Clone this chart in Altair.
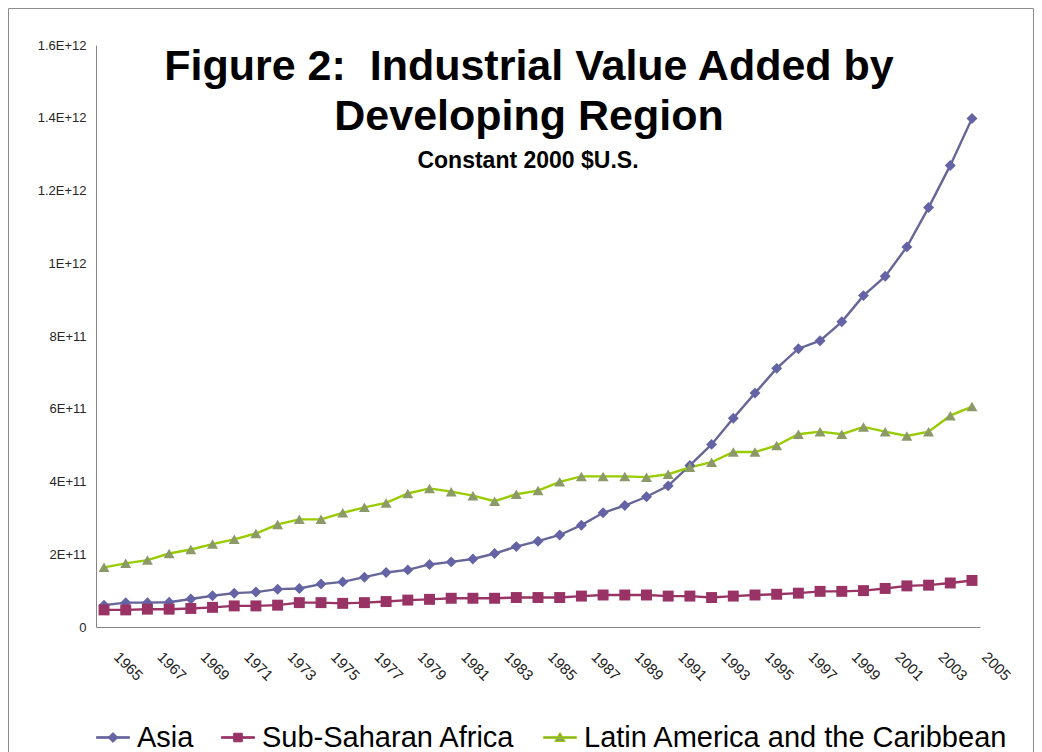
import altair as alt
import pandas as pd

# ---------------- data (values in units of 1E+11 constant 2000 US$) ----------------
YEARS = [1965, 1966, 1967, 1968, 1969, 1970, 1971, 1972, 1973, 1974,
         1975, 1976, 1977, 1978, 1979, 1980, 1981, 1982, 1983, 1984,
         1985, 1986, 1987, 1988, 1989, 1990, 1991, 1992, 1993, 1994,
         1995, 1996, 1997, 1998, 1999, 2000, 2001, 2002, 2003, 2004, 2005]

ASIA = [0.60, 0.67, 0.67, 0.68, 0.77, 0.86, 0.93, 0.96, 1.04, 1.06,
        1.18, 1.24, 1.37, 1.50, 1.57, 1.72, 1.79, 1.87, 2.02, 2.21,
        2.36, 2.53, 2.80, 3.14, 3.34, 3.58, 3.88, 4.44, 5.02, 5.74,
        6.43, 7.11, 7.65, 7.87, 8.39, 9.11, 9.64, 10.45, 11.53, 12.69, 13.98]

SSA = [0.47, 0.47, 0.49, 0.49, 0.51, 0.54, 0.58, 0.58, 0.60, 0.67,
       0.67, 0.65, 0.67, 0.70, 0.74, 0.76, 0.79, 0.79, 0.79, 0.81,
       0.81, 0.81, 0.85, 0.88, 0.88, 0.88, 0.85, 0.85, 0.81, 0.85,
       0.88, 0.90, 0.93, 0.98, 0.98, 1.00, 1.06, 1.13, 1.15, 1.21, 1.28]

LATAM = [1.64, 1.75, 1.84, 2.02, 2.13, 2.28, 2.41, 2.57, 2.82, 2.96,
         2.96, 3.14, 3.29, 3.41, 3.67, 3.81, 3.72, 3.61, 3.46, 3.65,
         3.75, 3.99, 4.14, 4.14, 4.14, 4.12, 4.20, 4.39, 4.53, 4.81,
         4.81, 4.99, 5.30, 5.37, 5.30, 5.50, 5.37, 5.25, 5.37, 5.81, 6.06]

UNIT = 1e11

REGIONS = ["Asia", "Sub-Saharan Africa", "Latin America and the Caribbean"]
SERIES = [ASIA, SSA, LATAM]

TICK_YEARS = [1965, 1967, 1969, 1971, 1973, 1975, 1977, 1979, 1981, 1983,
              1985, 1987, 1989, 1991, 1993, 1995, 1997, 1999, 2001, 2003, 2005]
Y_TICKS = [0, 2e11, 4e11, 6e11, 8e11, 1e12, 1.2e12, 1.4e12, 1.6e12]

TITLE_LINES = ["Figure 2:\u00a0 Industrial Value Added by", "Developing Region"]
SUBTITLE = "Constant 2000 $U.S."

# ---------------- styles ----------------
LINE_COLORS = ["#666699", "#993366", "#99CC00"]
MARKER_COLORS = ["#6363A5", "#993366", "#8C9A6A"]
SHAPES = ["diamond", "square", "triangle-up"]
LEGEND_PATHS = [
    "M-1,-0.05H1V0.05H-1Z M0,-0.3L0.3,0L0,0.3L-0.3,0Z",
    "M-1,-0.05H1V0.05H-1Z M-0.26,-0.26H0.26V0.26H-0.26Z",
    "M-1,-0.05H1V0.05H-1Z M0,-0.3L0.32,0.24L-0.32,0.24Z",
]
FONT = "Liberation Sans, Arial, sans-serif"

W, H = 884, 582
PAD = {"left": 88, "top": 37, "right": 54, "bottom": 125}

rows = []
for region, vals in zip(REGIONS, SERIES):
    for yr, v in zip(YEARS, vals):
        rows.append({"Year": yr, "Region": region, "Value": v * UNIT})
df = pd.DataFrame(rows)

x_enc = alt.X(
    "Year:O",
    scale=alt.Scale(padding=0.37),
    axis=alt.Axis(
        values=TICK_YEARS, labelAngle=45, labelAlign="left", labelBaseline="top",
        labelPadding=22, labelOffset=17, ticks=False, tickSize=0, grid=False,
        domainColor="#868686", domainWidth=1, labelFont=FONT, labelFontSize=15,
        labelColor="#222222", title=None, labelOverlap=False,
    ),
)
y_expr = ("datum.value == 0 ? '0' : "
          "(round(datum.value / pow(10, floor(log(datum.value) / LN10 + 0.000001)) * 10) / 10)"
          " + 'E+' + floor(log(datum.value) / LN10 + 0.000001)")
y_enc = alt.Y(
    "Value:Q",
    scale=alt.Scale(domain=[0, 1.6e12], nice=False),
    axis=alt.Axis(
        values=Y_TICKS, labelExpr=y_expr, ticks=False, tickSize=0, grid=False,
        domainColor="#868686", domainWidth=1, labelFont=FONT, labelFontSize=13,
        labelColor="#262626", labelPadding=10, title=None,
    ),
)

base = alt.Chart(df)

lines = base.mark_line(strokeWidth=2.4).encode(
    x=x_enc, y=y_enc,
    stroke=alt.Stroke("Region:N", scale=alt.Scale(domain=REGIONS, range=LINE_COLORS), legend=None),
)

points = base.mark_point(filled=True, opacity=1, size=120).encode(
    x=x_enc, y=y_enc,
    fill=alt.Fill("Region:N", scale=alt.Scale(domain=REGIONS, range=MARKER_COLORS), legend=None),
    shape=alt.Shape("Region:N", scale=alt.Scale(domain=REGIONS, range=SHAPES), legend=None),
)

leg = alt.Legend(
    title=None, orient="none", legendX=0, legendY=675.5, direction="horizontal",
    columns=3, labelFont=FONT, labelFontSize=29, labelColor="#000000",
    symbolSize=1089, labelOffset=7, columnPadding=25, padding=0,
    symbolStrokeWidth=1, symbolOpacity=1, labelLimit=700,
)
legend_layer = base.transform_filter("false").mark_point(filled=True, opacity=1, strokeWidth=1).encode(
    fill=alt.Fill("Region:N", scale=alt.Scale(domain=REGIONS, range=MARKER_COLORS), legend=leg),
    stroke=alt.Stroke("Region:N", scale=alt.Scale(domain=REGIONS, range=LINE_COLORS), legend=leg),
    shape=alt.Shape("Region:N", scale=alt.Scale(domain=REGIONS, range=LEGEND_PATHS), legend=leg),
)

title1 = alt.Chart(pd.DataFrame({"t": [TITLE_LINES[0]]})).mark_text(
    font=FONT, fontSize=43, fontWeight="bold", align="center", baseline="alphabetic", color="#000000"
).encode(text="t:N", x=alt.value(433), y=alt.value(35))
title2 = alt.Chart(pd.DataFrame({"t": [TITLE_LINES[1]]})).mark_text(
    font=FONT, fontSize=43, fontWeight="bold", align="center", baseline="alphabetic", color="#000000"
).encode(text="t:N", x=alt.value(433), y=alt.value(85))
subtitle = alt.Chart(pd.DataFrame({"t": [SUBTITLE]})).mark_text(
    font=FONT, fontSize=23, fontWeight="bold", align="center", baseline="alphabetic", color="#000000"
).encode(text="t:N", x=alt.value(432), y=alt.value(123))

frame = alt.Chart(pd.DataFrame({"a": [0]})).mark_rect(
    fill="transparent", stroke="#8c8c8c", strokeWidth=1
).encode(x=alt.value(-87.5), x2=alt.value(937.5), y=alt.value(-36.5), y2=alt.value(760))

chart = alt.layer(frame, lines, points, legend_layer, title1, title2, subtitle).resolve_scale(
    fill="independent", stroke="independent", shape="independent"
).properties(
    width=W, height=H,
    autosize=alt.AutoSizeParams(type="none"),
    padding=PAD,
    background="white",
).configure_view(strokeWidth=0)

chart.save("out.html", embed_options={"renderer": "svg", "actions": False})
